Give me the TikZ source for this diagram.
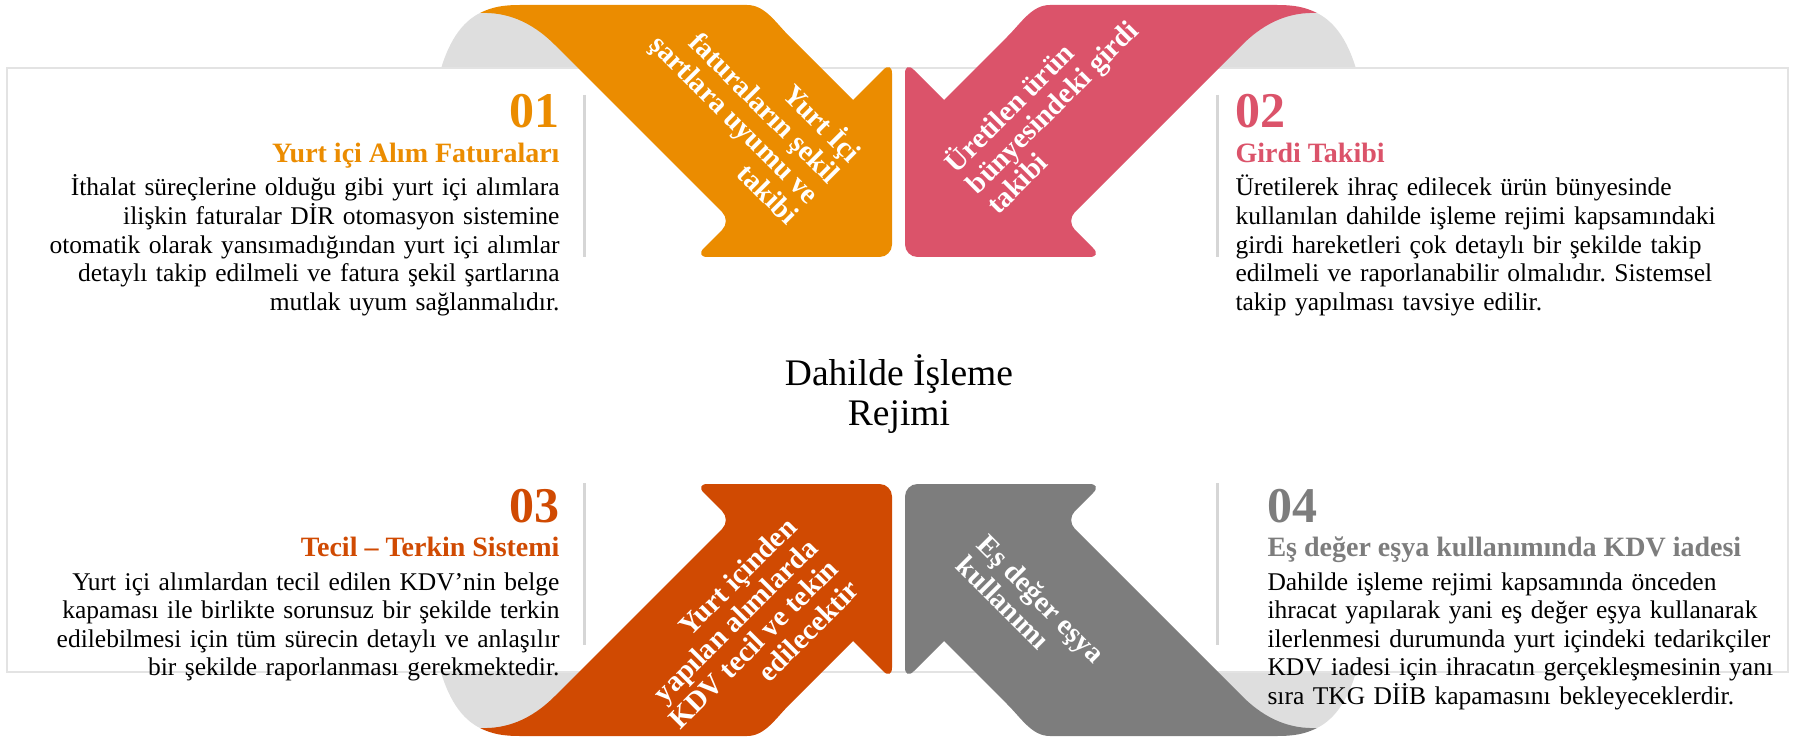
\documentclass[tikz,border=0pt]{standalone}
\usepackage{fontspec}
\setmainfont{Liberation Serif}
\frenchspacing
\definecolor{pwcorange}{HTML}{EB8C00}
\definecolor{pwcrose}{HTML}{DB536A}
\definecolor{pwcred}{HTML}{D04A02}
\definecolor{pwcgrey}{HTML}{7D7D7D}
\definecolor{foldgrey}{HTML}{DEDEDE}
\definecolor{linegrey}{HTML}{E3E3E3}
\definecolor{sepgrey}{HTML}{D6D6D6}
\begin{document}
\begin{tikzpicture}[x=0.4pt, y=-0.4pt,
  fold/.style={fill=foldgrey},
  ribbontext/.style={text=white, font=\bfseries\fontsize{11.5}{11.8}\selectfont, inner sep=0pt},
  number/.style={font=\bfseries\fontsize{20}{20}\selectfont, inner sep=0pt},
  heading/.style={font=\bfseries\fontsize{11.2}{13}\selectfont, inner sep=0pt},
  bodytext/.style={font=\fontsize{10.2}{11.4}\selectfont, inner sep=0pt, text width=220pt},
  sepline/.style={draw=sepgrey, line width=1.2pt}]
  \useasboundingbox (0,0) rectangle (1801,739);
  % the grey folds behind the ribbons
  \fill[fold] (438,80) .. controls (447,42) and (462,22) .. (480,13) -- (560,13) -- (640,80) -- cycle;
  \fill[fold] (1359,80) .. controls (1350,42) and (1335,22) .. (1317,13) -- (1237,13) -- (1157,80) -- cycle;
  \fill[fold] (438,661) .. controls (447,699) and (462,719) .. (480,728) -- (560,728) -- (640,661) -- cycle;
  \fill[fold] (1359,661) .. controls (1350,699) and (1335,719) .. (1317,728) -- (1237,728) -- (1157,661) -- cycle;
  % the frame
  \draw[linegrey, line width=0.8pt, fill=white] (7,68) rectangle (1788,672);
  \draw[sepline] (584,95) -- (584,257);
  \draw[sepline] (1217,95) -- (1217,257);
  \draw[sepline] (584,483) -- (584,645);
  \draw[sepline] (1217,483) -- (1217,645);
  % the four ribbons
  \fill[pwcorange] (480,13) .. controls (492,7) and (503,5) .. (520,5) -- (747,5)
    .. controls (765,5) and (775,22) .. (790,37) -- (853,100)
    [rounded corners=5pt] -- (892,61) -- (892,257) -- (695,257) -- (731,221)
    [sharp corners] -- (555,45) .. controls (530,20) and (505,12) .. (480,13) -- cycle;
  \fill[pwcrose] (1317,13) .. controls (1305,7) and (1294,5) .. (1277,5) -- (1050,5)
    .. controls (1032,5) and (1022,22) .. (1007,37) -- (944,100)
    [rounded corners=5pt] -- (905,61) -- (905,257) -- (1102,257) -- (1066,221)
    [sharp corners] -- (1242,45) .. controls (1267,20) and (1292,12) .. (1317,13) -- cycle;
  \fill[pwcred] (480,728) .. controls (492,734) and (503,736) .. (520,736) -- (747,736)
    .. controls (765,736) and (775,719) .. (790,704) -- (853,641)
    [rounded corners=5pt] -- (892,680) -- (892,484) -- (695,484) -- (731,520)
    [sharp corners] -- (555,696) .. controls (530,721) and (505,729) .. (480,728) -- cycle;
  \fill[pwcgrey] (1317,728) .. controls (1305,734) and (1294,736) .. (1277,736) -- (1050,736)
    .. controls (1032,736) and (1022,719) .. (1007,704) -- (944,641)
    [rounded corners=5pt] -- (905,680) -- (905,484) -- (1102,484) -- (1066,520)
    [sharp corners] -- (1242,696) .. controls (1267,721) and (1292,729) .. (1317,728) -- cycle;
  \node[ribbontext, rotate=-45, align=right, anchor=east] (rib1) at (827,187) {Yurt İçi\\faturaların şekil\\şartlara uyumu ve\\takibi};
  \node[ribbontext, rotate=45, align=left, anchor=west] (rib2) at (969,187) {Üretilen ürün\\bünyesindeki girdi\\takibi};
  \node[ribbontext, rotate=45, align=right, anchor=east] (rib3) at (823,553) {Yurt içinden\\yapılan alımlarda\\KDV tecil ve tekin\\edilecektir};
  \node[ribbontext, rotate=-45, align=left, anchor=west] (rib4) at (972,550) {Eş değer eşya\\kullanımı};
  % the centre
  \node[font=\fontsize{15}{16}\selectfont, align=center, inner sep=0pt] (regime) at (899,394) {Dahilde İşleme\\Rejimi};
  % block 01
  \node[number, text=pwcorange, anchor=base east] (num1) at (560,128) {01};
  \node[heading, text=pwcorange, anchor=base east] (head1) at (560,163) {Yurt içi Alım Faturaları};
  \node[bodytext, align=right, anchor=base east] (body1) at (560,196) {İthalat süreçlerine olduğu gibi yurt içi alımlara\\ilişkin faturalar DİR otomasyon sistemine\\otomatik olarak yansımadığından yurt içi alımlar\\detaylı takip edilmeli ve fatura şekil şartlarına\\mutlak uyum sağlanmalıdır.};
  % block 02
  \node[number, text=pwcrose, anchor=base west] (num2) at (1235,128) {02};
  \node[heading, text=pwcrose, anchor=base west] (head2) at (1235,163) {Girdi Takibi};
  \node[bodytext, align=left, anchor=base west] (body2) at (1235,196) {Üretilerek ihraç edilecek ürün bünyesinde\\kullanılan dahilde işleme rejimi kapsamındaki\\girdi hareketleri çok detaylı bir şekilde takip\\edilmeli ve raporlanabilir olmalıdır. Sistemsel\\takip yapılması tavsiye edilir.};
  % block 03
  \node[number, text=pwcred, anchor=base east] (num3) at (560,522) {03};
  \node[heading, text=pwcred, anchor=base east] (head3) at (560,556) {Tecil – Terkin Sistemi};
  \node[bodytext, align=right, anchor=base east] (body3) at (560,590) {Yurt içi alımlardan tecil edilen KDV’nin belge\\kapaması ile birlikte sorunsuz bir şekilde terkin\\edilebilmesi için tüm sürecin detaylı ve anlaşılır\\bir şekilde raporlanması gerekmektedir.};
  % block 04
  \node[number, text=pwcgrey, anchor=base west] (num4) at (1267,522) {04};
  \node[heading, text=pwcgrey, anchor=base west] (head4) at (1267,556) {Eş değer eşya kullanımında KDV iadesi};
  \node[bodytext, align=left, anchor=base west] (body4) at (1267,590) {Dahilde işleme rejimi kapsamında önceden\\ihracat yapılarak yani eş değer eşya kullanarak\\ilerlenmesi durumunda yurt içindeki tedarikçiler\\KDV iadesi için ihracatın gerçekleşmesinin yanı\\sıra TKG DİİB kapamasını bekleyeceklerdir.};
\end{tikzpicture}
\end{document}
